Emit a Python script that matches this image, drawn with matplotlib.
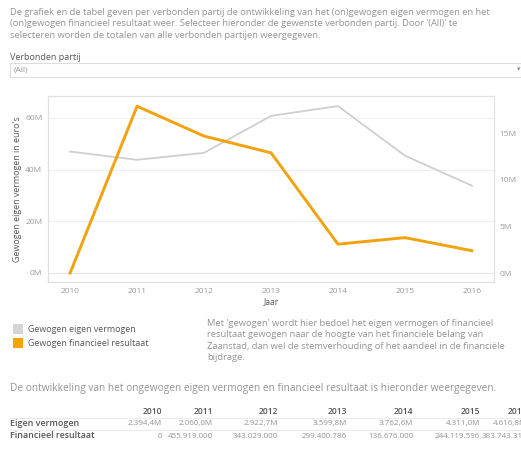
import matplotlib.pyplot as plt
from matplotlib.patches import Rectangle
from matplotlib.ticker import FuncFormatter

# data
jaren = [2010, 2011, 2012, 2013, 2014, 2015, 2016]
eigen_vermogen_gewogen = [47.0, 43.8, 46.5, 60.8, 64.6, 45.4, 33.8]   # M euro, left axis
financieel_gewogen = [0.0, 17.9, 14.7, 12.9, 3.1, 3.8, 2.4]            # M euro, right axis

tabel_jaren = ["2010", "2011", "2012", "2013", "2014", "2015", "2016"]
tabel_eigen = ["2.394,4M", "2.060,0M", "2.922,7M", "3.599,8M", "3.762,6M", "4.311,0M", "4.616,8M"]
tabel_fin = ["0", "455.919.000", "343.029.000", "299.400.786", "136.676.000", "244.119.596", "383.743.314"]

GREY = "#cfcfcf"
ORANGE = "#f3a20f"
TXT = "#939393"
DARK = "#555555"

plt.rcParams["font.family"] = ["Open Sans", "DejaVu Sans"]

fig = plt.figure(figsize=(5.21, 4.5), dpi=100)
W, H = 521, 450


def fx(x):
    return x / W


def fy(y):
    return 1 - y / H


intro = ("De grafiek en de tabel geven per verbonden partij de ontwikkeling van het (on)gewogen eigen vermogen en het\n"
         "(on)gewogen financieel resultaat weer. Selecteer hieronder de gewenste verbonden partij. Door '(All)' te\n"
         "selecteren worden de totalen van alle verbonden partijen weergegeven.")
fig.text(fx(10), fy(8), intro, fontsize=6.75, color=TXT, va="top", linespacing=1.35)

fig.text(fx(10), fy(57), "Verbonden partij", fontsize=6.5, color=DARK, va="center")
fig.patches.append(Rectangle((fx(10), fy(77)), fx(521 - 10), 14 / H, transform=fig.transFigure,
                             facecolor="white", edgecolor="#dddddd", lw=0.8))
fig.text(fx(14), fy(70), "(All)", fontsize=6.0, color=TXT, va="center")
fig.text(fx(517), fy(70), "\u25be", fontsize=5, color=TXT, va="center")

# chart
ax = fig.add_axes([fx(48), fy(282), fx(494 - 48), (282 - 96) / H])
ax2 = ax.twinx()

ax.plot(jaren, eigen_vermogen_gewogen, color=GREY, lw=1.3, zorder=2)
ax2.plot(jaren, financieel_gewogen, color=ORANGE, lw=2.1, zorder=3)

ax.set_xlim(2009.67, 2016.33)
ax.set_ylim(-3.5, 68.5)
ax2.set_ylim(-0.96, 19.0)
ax.set_yticks([0, 20, 40, 60])
ax2.set_yticks([0, 5, 10, 15])
fmt = FuncFormatter(lambda v, p: f"{v:.0f}M")
ax.yaxis.set_major_formatter(fmt)
ax2.yaxis.set_major_formatter(fmt)
ax.set_xticks(jaren)
ax.grid(axis="y", color="#f0f0f0", lw=0.7)
ax.set_axisbelow(True)
ax.axhline(0, color="#e6e6e6", lw=0.8, zorder=1)

for a in (ax, ax2):
    a.tick_params(length=0, labelsize=6.0, labelcolor="#9a9a9a", pad=4)
    for s in a.spines.values():
        s.set_color("#e0e0e0")
        s.set_linewidth(0.8)

ax.set_ylabel("Gewogen eigen vermogen in euro's", fontsize=6.4, color=DARK, labelpad=2)
ax.set_xlabel("Jaar", fontsize=6.2, color=DARK, labelpad=2)

# legend
fig.patches.append(Rectangle((fx(13), fy(334)), 10 / W, 10 / H, transform=fig.transFigure,
                             facecolor="#d4d4d4", edgecolor="none"))
fig.patches.append(Rectangle((fx(13), fy(348)), 10 / W, 10 / H, transform=fig.transFigure,
                             facecolor="#f7a400", edgecolor="none"))
fig.text(fx(28), fy(329), "Gewogen eigen vermogen", fontsize=6.4, color=DARK, va="center")
fig.text(fx(28), fy(343), "Gewogen financieel resultaat", fontsize=6.4, color=DARK, va="center")

note = ("Met 'gewogen' wordt hier bedoel het eigen vermogen of financieel\n"
        "resultaat gewogen naar de hoogte van het financiele belang van\n"
        "Zaanstad, dan wel de stemverhouding of het aandeel in de financiële\n"
        "bijdrage.")
fig.text(fx(207), fy(319), note, fontsize=6.75, color=TXT, va="top", linespacing=1.35)

fig.text(fx(10), fy(388), "De ontwikkeling van het ongewogen eigen vermogen en financieel resultaat is hieronder weergegeven.",
         fontsize=7.25, color=TXT, va="center")

# table (last column runs off the right edge, as in the reference)
col_right = [162, 213, 278, 347, 413, 480, 527]
for x, j in zip(col_right, tabel_jaren):
    fig.text(fx(x), fy(412), j, fontsize=6.1, color=DARK, ha="right", va="center", fontweight="semibold")
for x, v in zip(col_right, tabel_eigen):
    fig.text(fx(x), fy(424), v, fontsize=5.8, color=TXT, ha="right", va="center")
for x, v in zip(col_right, tabel_fin):
    fig.text(fx(x), fy(436), v, fontsize=5.8, color=TXT, ha="right", va="center")
fig.text(fx(10), fy(424), "Eigen vermogen", fontsize=6.4, color=DARK, va="center", fontweight="semibold")
fig.text(fx(10), fy(436), "Financieel resultaat", fontsize=6.4, color=DARK, va="center", fontweight="semibold")
for y in (418, 430):
    fig.add_artist(plt.Line2D([fx(10), 1], [fy(y), fy(y)], color="#e6e6e6", lw=0.6,
                              transform=fig.transFigure))

fig.savefig("out.png", dpi=100)
